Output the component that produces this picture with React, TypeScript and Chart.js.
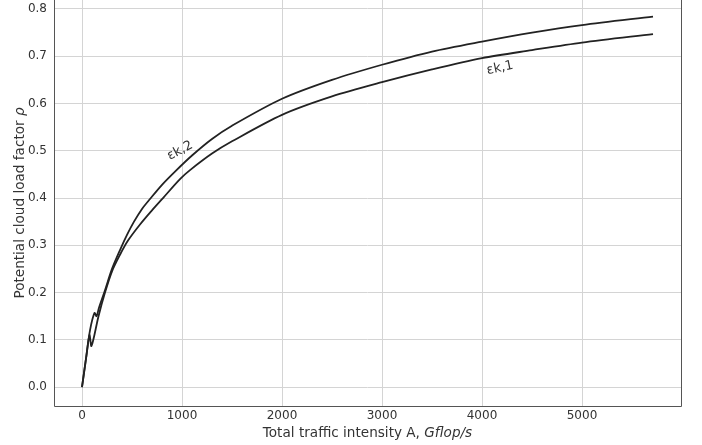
import React, { useEffect, useRef } from "react";
import { Chart, registerables } from "chart.js";

Chart.register(...registerables);

const xTicks = [0, 1000, 2000, 3000, 4000, 5000];
const yTicks = [0, 0.1, 0.2, 0.3, 0.4, 0.5, 0.6, 0.7, 0.8];

const upperX = [0, 40, 80, 125, 145, 170, 230, 300, 380, 450, 520, 600, 680, 800, 930, 1100, 1300, 1500, 2000, 2500, 3000, 3500, 4000, 4500, 5000, 5710];
const upperY = [0, 0.06, 0.12, 0.157, 0.15, 0.168, 0.205, 0.25, 0.29, 0.322, 0.35, 0.377, 0.398, 0.428, 0.456, 0.49, 0.525, 0.553, 0.61, 0.65, 0.682, 0.71, 0.731, 0.75, 0.766, 0.784];

const lowerX = [0, 40, 75, 95, 165, 230, 300, 380, 460, 580, 700, 810, 980, 1080, 1300, 1500, 2000, 2500, 3000, 3500, 4000, 4500, 5000, 5710];
const lowerY = [0, 0.06, 0.11, 0.087, 0.15, 0.2, 0.245, 0.28, 0.31, 0.344, 0.374, 0.4, 0.44, 0.459, 0.494, 0.52, 0.576, 0.615, 0.645, 0.672, 0.696, 0.713, 0.729, 0.747];

const labels = [
  { text: "εk,2", x: 980, y: 0.5, angle: -28 },
  { text: "εk,1", x: 4180, y: 0.675, angle: -12 },
];

const FONT = "'DejaVu Sans', sans-serif";

export default function App() {
  const ref = useRef<HTMLCanvasElement | null>(null);
  useEffect(() => {
    document.body.style.margin = "0";
    const canvas = ref.current!;
    const decor = {
      id: "decor",
      afterDatasetsDraw(chart: any) {
        const ctx = chart.ctx;
        const xs = chart.scales.x;
        const ys = chart.scales.y;
        const a = chart.chartArea;
        ctx.save();
        // spines
        ctx.strokeStyle = "#555";
        ctx.lineWidth = 1;
        ctx.beginPath();
        ctx.moveTo(a.left + 0.5, a.top);
        ctx.lineTo(a.left + 0.5, a.bottom + 0.5);
        ctx.lineTo(a.right + 0.5, a.bottom + 0.5);
        ctx.lineTo(a.right + 0.5, a.top);
        ctx.stroke();
        // curve labels
        ctx.fillStyle = "#333";
        ctx.font = `13px ${FONT}`;
        ctx.textAlign = "center";
        ctx.textBaseline = "middle";
        for (const l of labels) {
          ctx.save();
          ctx.translate(xs.getPixelForValue(l.x), ys.getPixelForValue(l.y));
          ctx.rotate((l.angle * Math.PI) / 180);
          ctx.fillText(l.text, 0, 0);
          ctx.restore();
        }
        // x title
        ctx.textBaseline = "alphabetic";
        const p1 = "Total traffic intensity A, ";
        const p2 = "Gflop/s";
        ctx.font = `13.6px ${FONT}`;
        const w1 = ctx.measureText(p1).width;
        ctx.font = `italic 13.6px ${FONT}`;
        const w2 = ctx.measureText(p2).width;
        const cx = (a.left + a.right) / 2;
        const sx = cx - (w1 + w2) / 2;
        ctx.textAlign = "left";
        ctx.font = `13.6px ${FONT}`;
        ctx.fillText(p1, sx, 437);
        ctx.font = `italic 13.6px ${FONT}`;
        ctx.fillText(p2, sx + w1, 437);
        // y title
        ctx.save();
        ctx.translate(24, (a.top + a.bottom) / 2);
        ctx.rotate(-Math.PI / 2);
        const q1 = "Potential cloud load factor ";
        const q2 = "ρ";
        ctx.font = `13.6px ${FONT}`;
        const v1 = ctx.measureText(q1).width;
        ctx.font = `italic 13.6px ${FONT}`;
        const v2 = ctx.measureText(q2).width;
        const sy = -(v1 + v2) / 2;
        ctx.font = `13.6px ${FONT}`;
        ctx.fillText(q1, sy, 0);
        ctx.font = `italic 13.6px ${FONT}`;
        ctx.fillText(q2, sy + v1, 0);
        ctx.restore();
        ctx.restore();
      },
    };
    const chart = new Chart(canvas, {
      type: "line",
      data: {
        datasets: [
          {
            label: "εk,2",
            data: upperX.map((x, i) => ({ x, y: upperY[i] })),
            borderColor: "#222",
            borderWidth: 1.8,
            pointRadius: 0,
            tension: 0.3,
            fill: false,
          },
          {
            label: "εk,1",
            data: lowerX.map((x, i) => ({ x, y: lowerY[i] })),
            borderColor: "#222",
            borderWidth: 1.8,
            pointRadius: 0,
            tension: 0.3,
            fill: false,
          },
        ],
      },
      options: {
        animation: false,
        responsive: false,
        devicePixelRatio: 1,
        layout: { padding: { top: 0, right: 21, left: 0, bottom: 0 } },
        plugins: { legend: { display: false }, tooltip: { enabled: false } },
        scales: {
          x: {
            type: "linear",
            min: -280,
            max: 5990,
            border: { display: false },
            grid: { color: "#d4d4d4", drawTicks: false },
            afterBuildTicks: (s: any) => {
              s.ticks = xTicks.map((v) => ({ value: v }));
            },
            afterFit: (s: any) => {
              s.height = 39;
              s.paddingLeft = 0;
              s.paddingRight = 0;
            },
            ticks: {
              color: "#333",
              font: { family: FONT, size: 12 },
              padding: 3,
              maxRotation: 0,
              callback: (v: any) => String(v),
            },
          },
          y: {
            type: "linear",
            min: -0.04,
            max: 0.819,
            border: { display: false },
            grid: { color: "#d4d4d4", drawTicks: false },
            afterBuildTicks: (s: any) => {
              s.ticks = yTicks.map((v) => ({ value: v }));
            },
            afterFit: (s: any) => {
              s.width = 54;
              s.paddingTop = 0;
              s.paddingBottom = 0;
            },
            ticks: {
              color: "#333",
              font: { family: FONT, size: 12 },
              padding: 7,
              callback: (v: any) => Number(v).toFixed(1),
            },
          },
        },
      },
      plugins: [decor],
    });
    return () => chart.destroy();
  }, []);
  return (
    <div style={{ width: 702, height: 445 }}>
      <canvas ref={ref} width={702} height={445} style={{ display: "block" }} />
    </div>
  );
}
